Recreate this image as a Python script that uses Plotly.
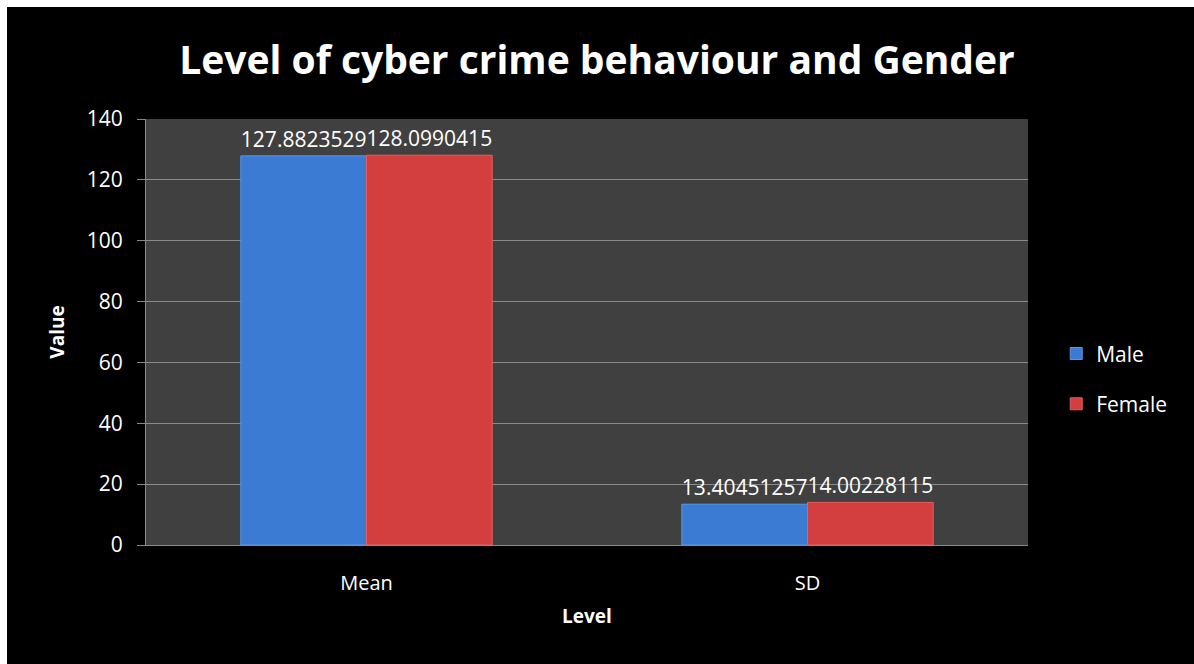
import plotly.graph_objects as go

categories = ["Mean", "SD"]
male = [127.8823529, 13.40451257]
female = [128.0990415, 14.00228115]
male_labels = ["127.8823529", "13.40451257"]
female_labels = ["128.0990415", "14.00228115"]
y_ticks = [0, 20, 40, 60, 80, 100, 120, 140]

W, H = 1194, 664
L, R, T, B = 146, 166, 119, 119
pw, ph = W - L - R, H - T - B

FONT = "Open Sans"

fig = go.Figure()
fig.add_trace(go.Bar(
    name="Male", x=categories, y=male, text=male_labels,
    textposition="outside", legendgroup="m",
    marker=dict(color="#3b7bd4", line=dict(color="#5a96e6", width=1)),
    textfont=dict(color="white", size=21, family=FONT), cliponaxis=False,
))
fig.add_trace(go.Bar(
    name="Female", x=categories, y=female, text=female_labels,
    textposition="outside", legendgroup="f",
    marker=dict(color="#d33e3e", line=dict(color="#e65e5e", width=1)),
    textfont=dict(color="white", size=21, family=FONT), cliponaxis=False,
))

# white 7px strips at top and left of the figure
shapes = [
    dict(type="rect", xref="paper", yref="paper", layer="below",
         x0=-L / pw - 0.01, x1=(W - L) / pw + 0.01, y0=1 + (T - 7) / ph, y1=1 + T / ph + 0.01,
         fillcolor="white", line=dict(width=0)),
    dict(type="rect", xref="paper", yref="paper", layer="below",
         x0=-L / pw - 0.01, x1=-(L - 7) / pw, y0=-B / ph - 0.01, y1=1 + T / ph + 0.01,
         fillcolor="white", line=dict(width=0)),
]

fig.update_layout(
    width=W, height=H,
    margin=dict(l=L, r=R, t=T, b=B),
    paper_bgcolor="black", plot_bgcolor="#404040",
    barmode="group", bargap=0.43, bargroupgap=0,
    font=dict(family=FONT, color="white", size=21),
    title=dict(text="<b>Level of cyber crime behaviour and Gender</b>",
               x=0.5, xanchor="center", y=1 - 60 / H, yanchor="middle",
               font=dict(size=39, color="white", family=FONT)),
    xaxis=dict(title=dict(text="<b>Level</b>", font=dict(size=19), standoff=14),
               showgrid=False, ticks="", showline=True, linecolor="#8a8a8a",
               tickfont=dict(size=20), ticklabelstandoff=20),
    yaxis=dict(title=dict(text="<b>Value</b>", font=dict(size=19), standoff=17),
               range=[0, 140], tickvals=y_ticks, showgrid=True,
               gridcolor="#8a8a8a", gridwidth=1, zeroline=False,
               showline=True, linecolor="#8a8a8a", ticks="outside",
               ticklen=8, tickcolor="#8a8a8a", tickfont=dict(size=21),
               ticklabelstandoff=10),
    legend=dict(x=1.032, xanchor="left", y=0.39, yanchor="middle",
                font=dict(size=21, color="white"), bgcolor="rgba(0,0,0,0)",
                traceorder="grouped", tracegroupgap=20, itemwidth=30),
    shapes=shapes,
)

fig.write_html("out.html")
